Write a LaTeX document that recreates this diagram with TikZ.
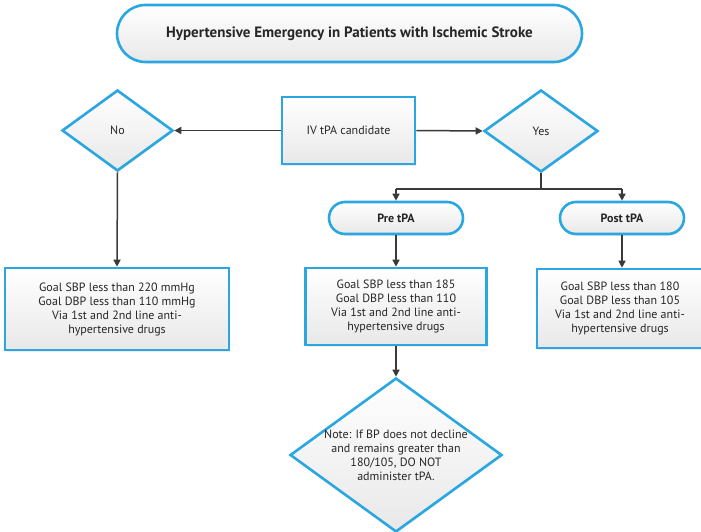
\documentclass[tikz,border=0pt]{standalone}
\usepackage{fontspec}
\setmainfont{PT Sans}
\usetikzlibrary{shapes.geometric,shapes.misc,arrows.meta,shadows}

\definecolor{edgeblue}{HTML}{2AA7E0}
\definecolor{linegray}{HTML}{3A3A3A}
\definecolor{textgray}{HTML}{262626}

\tikzset{
  boxfill/.style={draw=edgeblue, line width=2.6pt, top color=white, bottom color=black!9,
    drop shadow={opacity=0.15, shadow xshift=1pt, shadow yshift=-1.5pt}},
  stepbox/.style={boxfill, rectangle, inner sep=0pt},
  pill/.style={boxfill, rounded rectangle, inner sep=0pt},
  dia/.style={boxfill, diamond, inner sep=0pt},
  lbl/.style={text=textgray, align=center, font=\fontsize{12}{14}\selectfont},
  headlbl/.style={lbl, font=\fontsize{12}{14}\selectfont\bfseries},
  conn/.style={draw=linegray, line width=1.5pt},
  arr/.style={conn, -{Triangle[length=7pt,width=7pt]}},
}

\begin{document}
\begin{tikzpicture}[x=1pt,y=-1pt]
\useasboundingbox (0,0) rectangle (701,532);

% title
\node[pill, minimum width=465, minimum height=57] (title) at (349.5,33.5) {};
\node[lbl, font=\fontsize{15}{18}\selectfont\bfseries] at (title) {Hypertensive Emergency in Patients with Ischemic Stroke};

% decision row
\node[stepbox, minimum width=133, minimum height=67] (cand) at (348.5,130.5) {};
\node[lbl] at (cand) {IV tPA candidate};
\node[dia, minimum width=111, minimum height=81] (no) at (117.5,130.5) {};
\node[lbl] at (no) {No};
\node[dia, minimum width=114, minimum height=82] (yes) at (541,131) {};
\node[lbl] at (yes) {Yes};

% branches of the yes side
\node[pill, minimum width=134, minimum height=32] (pre) at (396,218) {};
\node[headlbl] at (pre) {Pre tPA};
\node[pill, minimum width=124, minimum height=32] (post) at (622,218) {};
\node[headlbl] at (post) {Post tPA};

% goal boxes
\node[stepbox, minimum width=224, minimum height=82] (goalno) at (117,309) {};
\node[lbl] at (goalno) {Goal SBP less than 220 mmHg\\Goal DBP less than 110 mmHg\\Via 1st and 2nd line anti-\\hypertensive drugs};
\node[stepbox, minimum width=181, minimum height=77] (goalpre) at (396,306.5) {};
\node[lbl] at (goalpre) {Goal SBP less than 185\\Goal DBP less than 110\\Via 1st and 2nd line anti-\\hypertensive drugs};
\node[stepbox, minimum width=166, minimum height=79] (goalpost) at (620,308.5) {};
\node[lbl] at (goalpost) {Goal SBP less than 180\\Goal DBP less than 105\\Via 1st and 2nd line anti-\\hypertensive drugs};

% warning note
\node[dia, minimum width=212, minimum height=154] (note) at (396,455) {};
\node[lbl] at (note) {Note: If BP does not decline\\and remains greater than\\180/105, DO NOT\\administer tPA.};

% connectors
\coordinate (split) at (541,189);
\draw[arr] (cand.west) -- (no.east);
\draw[arr] (cand.east) -- (yes.west);
\draw[conn] (yes.south) -- (split);
\draw[conn] (split) -- (396,189) coordinate (splitl);
\draw[conn] (split) -- (622,189) coordinate (splitr);
\draw[arr] (splitl) -- (pre.north);
\draw[arr] (splitr) -- (post.north);
\draw[arr] (no.south) -- (goalno.north);
\draw[arr] (pre.south) -- (goalpre.north);
\draw[arr] (post.south) -- (post.south |- goalpost.north);
\draw[arr] (goalpre.south) -- (note.north);
\end{tikzpicture}
\end{document}
